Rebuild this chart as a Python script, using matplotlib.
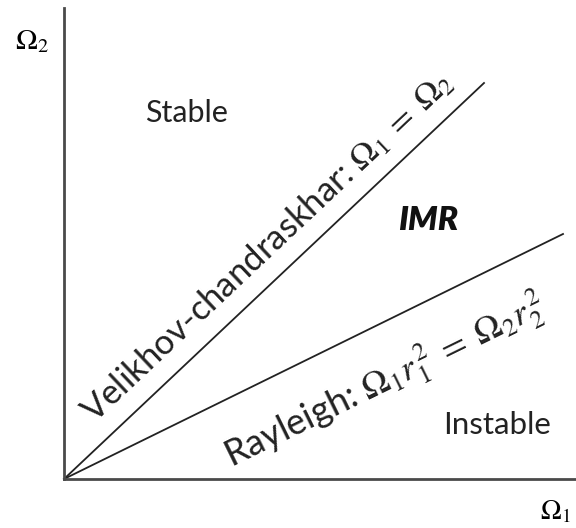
import matplotlib
matplotlib.use("Agg")
import matplotlib.pyplot as plt

# --------------------------
# DATA (schematic, origin at 0,0)
# --------------------------
velikhov_x = [0, 420]
velikhov_y = [0, 396]
rayleigh_x = [0, 499]
rayleigh_y = [0, 245]

region_labels = ["Stable", "IMR", "Instable"]
region_x = [122, 364, 433]
region_y = [366, 259, 54]

plt.rcParams["font.family"] = ["Lato", "DejaVu Sans"]
plt.rcParams["mathtext.fontset"] = "stix"

fig = plt.figure(figsize=(5.76, 5.28), dpi=100)
ax = fig.add_axes([64 / 576, 49 / 528, 512 / 576, 471 / 528])
ax.set_xlim(0, 512)
ax.set_ylim(0, 471)

for s in ["top", "right"]:
    ax.spines[s].set_visible(False)
for s in ["left", "bottom"]:
    ax.spines[s].set_color("#4a4a4a")
    ax.spines[s].set_linewidth(2)
ax.set_xticks([])
ax.set_yticks([])

ax.plot(velikhov_x, velikhov_y, color="#222222", lw=1.3, clip_on=False)
ax.plot(rayleigh_x, rayleigh_y, color="#222222", lw=1.3, clip_on=False)

# region labels
ax.text(region_x[0], region_y[0], region_labels[0], fontsize=22, ha="center", va="center", color="#222222")
ax.text(region_x[1], region_y[1], region_labels[1], fontsize=24, ha="center", va="center",
        fontweight="heavy", fontstyle="italic", color="#111111")
ax.text(region_x[2], region_y[2], region_labels[2], fontsize=22.5, ha="center", va="center", color="#222222")

# line labels
ax.text(203, 233, r"Velikhov-chandraskhar: $\Omega_1\;=\;\Omega_2$", fontsize=25,
        rotation=43.3, rotation_mode="anchor", ha="center", va="center", color="#222222")
ax.text(322, 97, r"Rayleigh: $\Omega_1 r_1^{\,2}\;=\;\Omega_2 r_2^{\,2}$", fontsize=26,
        rotation=26.1, rotation_mode="anchor", ha="center", va="center", color="#222222")

# axis labels
fig.text(32 / 576, 1 - 42 / 528, r"$\Omega_2$", fontsize=21, ha="center", va="center")
fig.text(555 / 576, 1 - 512 / 528, r"$\Omega_1$", fontsize=20, ha="center", va="center")

fig.savefig("out.png", dpi=100)
